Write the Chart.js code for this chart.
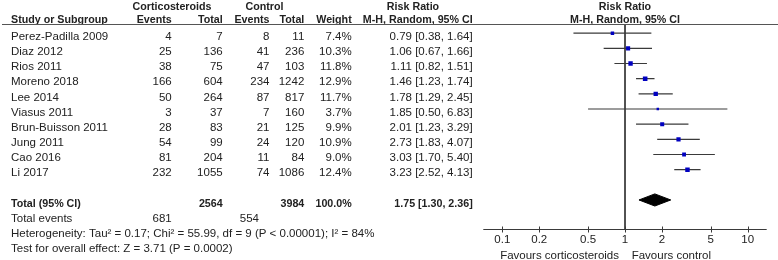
<!DOCTYPE html>
<html>
<head>
<meta charset="utf-8">
<title>Forest plot - corticosteroids vs control</title>
<script src="https://cdn.jsdelivr.net/npm/chart.js@4.4.1/dist/chart.umd.min.js"></script>
<style>
  html, body { margin: 0; padding: 0; background: #fff; }
  canvas { display: block; }
</style>
</head>
<body>
<canvas id="forest" width="778" height="260"></canvas>
<script>
// Study data
const studies = ['Perez-Padilla 2009', 'Diaz 2012', 'Rios 2011', 'Moreno 2018', 'Lee 2014',
                 'Viasus 2011', 'Brun-Buisson 2011', 'Jung 2011', 'Cao 2016', 'Li 2017'];
const steroidEvents = [4, 25, 38, 166, 50, 3, 28, 54, 81, 232];
const steroidTotal = [7, 136, 75, 604, 264, 37, 83, 99, 204, 1055];
const controlEvents = [8, 41, 47, 234, 87, 7, 21, 24, 11, 74];
const controlTotal = [11, 236, 103, 1242, 817, 160, 125, 120, 84, 1086];
const weights = [7.4, 10.3, 11.8, 12.9, 11.7, 3.7, 9.9, 10.9, 9.0, 12.4];
const riskRatio = [0.79, 1.06, 1.11, 1.46, 1.78, 1.85, 2.01, 2.73, 3.03, 3.23];
const ciLow = [0.38, 0.67, 0.82, 1.23, 1.29, 0.50, 1.23, 1.83, 1.70, 2.52];
const ciHigh = [1.64, 1.66, 1.51, 1.74, 2.45, 6.83, 3.29, 4.07, 5.40, 4.13];

// Pooled result
const pooledRR = 1.75;
const pooledLow = 1.30;
const pooledHigh = 2.36;
const totalSteroid = 2564;
const totalControl = 3984;
const eventsSteroid = 681;
const eventsControl = 554;
const heterogeneityText = 'Heterogeneity: Tau\u00B2 = 0.17; Chi\u00B2 = 55.99, df = 9 (P < 0.00001); I\u00B2 = 84%';
const overallText = 'Test for overall effect: Z = 3.71 (P = 0.0002)';

// Axis
const tickValues = [0.1, 0.2, 0.5, 1, 2, 5, 10];
const favoursLeft = 'Favours corticosteroids';
const favoursRight = 'Favours control';

// Layout
const FONT = '"Liberation Sans", Arial, sans-serif';
const FONT_SIZE = 11.5;
const BOLD_SIZE = 10.7;
const TEXT_COLOR = '#222';
const LINE_COLOR = '#3a3a3a';
const COL = { name: 11, stEv: 171.7, stTot: 222.7, ctEv: 269.5, ctTot: 304.3, weight: 351.7, rr: 472.7 };
const TOTAL_ROW = studies.length + 1;

function fmtRR(rr, lo, hi) {
    return rr.toFixed(2) + ' [' + lo.toFixed(2) + ', ' + hi.toFixed(2) + ']';
}

function text(ctx, s, x, y, align, bold) {
    ctx.font = bold ? 'bold ' + BOLD_SIZE + 'px ' + FONT : FONT_SIZE + 'px ' + FONT;
    ctx.textAlign = align || 'left';
    ctx.fillText(s, x, y);
}

// Table, header line and the x axis
const tablePlugin = {
    id: 'forestTable',
    afterDraw(chart) {
        const ctx = chart.ctx;
        const xs = chart.scales.x;
        const ys = chart.scales.y;
        const area = chart.chartArea;
        const rowY = i => ys.getPixelForValue(i) + 6.8;

        ctx.save();
        ctx.fillStyle = TEXT_COLOR;
        ctx.textBaseline = 'alphabetic';

        // Headers
        text(ctx, 'Corticosteroids', 172, 10, 'center', true);
        text(ctx, 'Control', 264.5, 10, 'center', true);
        text(ctx, 'Risk Ratio', 413, 10, 'center', true);
        text(ctx, 'Risk Ratio', xs.getPixelForValue(1), 10, 'center', true);
        text(ctx, 'Study or Subgroup', COL.name, 23, 'left', true);
        text(ctx, 'Events', COL.stEv, 23, 'right', true);
        text(ctx, 'Total', COL.stTot, 23, 'right', true);
        text(ctx, 'Events', COL.ctEv, 23, 'right', true);
        text(ctx, 'Total', COL.ctTot, 23, 'right', true);
        text(ctx, 'Weight', COL.weight, 23, 'right', true);
        text(ctx, 'M-H, Random, 95% CI', COL.rr, 23, 'right', true);
        text(ctx, 'M-H, Random, 95% CI', xs.getPixelForValue(1), 23, 'center', true);

        // Study rows
        studies.forEach((name, i) => {
            const y = rowY(i);
            text(ctx, name, COL.name, y, 'left');
            text(ctx, String(steroidEvents[i]), COL.stEv, y, 'right');
            text(ctx, String(steroidTotal[i]), COL.stTot, y, 'right');
            text(ctx, String(controlEvents[i]), COL.ctEv, y, 'right');
            text(ctx, String(controlTotal[i]), COL.ctTot, y, 'right');
            text(ctx, weights[i].toFixed(1) + '%', COL.weight, y, 'right');
            text(ctx, fmtRR(riskRatio[i], ciLow[i], ciHigh[i]), COL.rr, y, 'right');
        });

        // Totals
        let y = rowY(TOTAL_ROW);
        text(ctx, 'Total (95% CI)', COL.name, y, 'left', true);
        text(ctx, String(totalSteroid), COL.stTot, y, 'right', true);
        text(ctx, String(totalControl), COL.ctTot, y, 'right', true);
        text(ctx, '100.0%', COL.weight, y, 'right', true);
        text(ctx, fmtRR(pooledRR, pooledLow, pooledHigh), COL.rr, y, 'right', true);
        y = rowY(TOTAL_ROW + 1);
        text(ctx, 'Total events', COL.name, y, 'left');
        text(ctx, String(eventsSteroid), COL.stEv, y, 'right');
        text(ctx, String(eventsControl), 259, y, 'right');
        text(ctx, heterogeneityText, COL.name, rowY(TOTAL_ROW + 2), 'left');
        text(ctx, overallText, COL.name, rowY(TOTAL_ROW + 3), 'left');

        // Header rule
        ctx.strokeStyle = '#555';
        ctx.lineWidth = 1;
        ctx.beginPath();
        ctx.moveTo(2, area.top);
        ctx.lineTo(778, area.top);
        ctx.stroke();

        // X axis with ticks crossing the line
        const y0 = area.bottom;
        ctx.strokeStyle = LINE_COLOR;
        ctx.beginPath();
        ctx.moveTo(area.left, y0);
        ctx.lineTo(area.right, y0);
        tickValues.forEach(v => {
            const x = Math.round(xs.getPixelForValue(v)) + 0.5;
            ctx.moveTo(x, y0 - 3);
            ctx.lineTo(x, y0 + 3);
        });
        ctx.stroke();
        tickValues.forEach(v => {
            text(ctx, String(v), xs.getPixelForValue(v), y0 + 13.7, 'center');
        });
        const x1 = xs.getPixelForValue(1);
        text(ctx, favoursLeft, x1 - 6, y0 + 29, 'right');
        text(ctx, favoursRight, x1 + 6.7, y0 + 29, 'left');

        ctx.restore();
    }
};

const Y_MIN = -0.574;
const Y_MAX = 12.949;

// Datasets: squares first so they sit on top of the CI lines
const datasets = [];
datasets.push({
    label: 'Risk ratio',
    data: studies.map((_, i) => ({ x: riskRatio[i], y: i })),
    pointStyle: 'rect',
    pointRadius: weights.map(w => Math.sqrt(w) * 0.9),
    backgroundColor: '#0000c0',
    borderWidth: 0
});
studies.forEach((name, i) => {
    datasets.push({
        label: name + ' CI',
        data: [{ x: ciLow[i], y: i }, { x: ciHigh[i], y: i }],
        showLine: true,
        borderColor: LINE_COLOR,
        borderWidth: 1.2,
        pointRadius: 0
    });
});
datasets.push({
    label: 'Pooled',
    data: [
        { x: pooledLow, y: TOTAL_ROW },
        { x: pooledRR, y: TOTAL_ROW - 0.4 },
        { x: pooledHigh, y: TOTAL_ROW },
        { x: pooledRR, y: TOTAL_ROW + 0.4 },
        { x: pooledLow, y: TOTAL_ROW }
    ],
    showLine: true,
    fill: 'shape',
    backgroundColor: '#000',
    borderColor: '#000',
    borderWidth: 1,
    pointRadius: 0
});
datasets.push({
    label: 'No effect',
    data: [{ x: 1, y: Y_MIN }, { x: 1, y: Y_MAX }],
    showLine: true,
    borderColor: LINE_COLOR,
    borderWidth: 1,
    pointRadius: 0
});

new Chart(document.getElementById('forest'), {
    type: 'scatter',
    data: { datasets: datasets },
    options: {
        responsive: false,
        animation: false,
        layout: { padding: { left: 483.3, right: 11.3, top: 24.5, bottom: 30.5 } },
        plugins: { legend: { display: false }, tooltip: { enabled: false } },
        scales: {
            x: { type: 'logarithmic', min: 0.07, max: 1 / 0.07, display: false },
            y: { type: 'linear', min: Y_MIN, max: Y_MAX, reverse: true, display: false }
        }
    },
    plugins: [tablePlugin]
});
</script>
</body>
</html>
